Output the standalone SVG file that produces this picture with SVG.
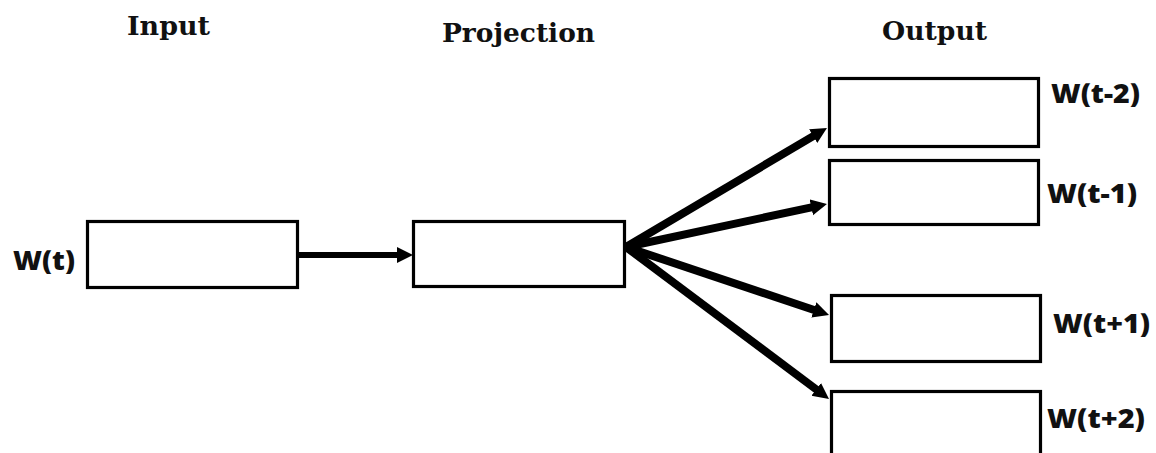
<svg xmlns="http://www.w3.org/2000/svg" width="1156" height="453" viewBox="0 0 1156 453">
  <style>
    .box { fill: #ffffff; stroke: #000000; stroke-width: 3.2; }
    .title { font-family: "DejaVu Serif", "Liberation Serif", serif; font-weight: bold; font-size: 26px; fill: #111111; }
    .lbl { font-family: "Open Sans", "Liberation Sans", sans-serif; font-weight: 800; font-size: 26px; fill: #111111; }
    .wire { stroke: #000000; fill: none; stroke-linecap: butt; }
  </style>
  <defs>
    <marker id="head" markerUnits="userSpaceOnUse" markerWidth="18" markerHeight="18" refX="5" refY="8" orient="auto">
      <path d="M0,0 L16,8 L0,16 z" fill="#000000"/>
    </marker>
  </defs>

  <rect width="1156" height="453" fill="#ffffff"/>

  <!-- column headings -->
  <text class="title" x="127" y="35" textLength="83" lengthAdjust="spacingAndGlyphs">Input</text>
  <text class="title" x="442" y="42" textLength="153" lengthAdjust="spacingAndGlyphs">Projection</text>
  <text class="title" x="882" y="40" textLength="105" lengthAdjust="spacingAndGlyphs">Output</text>

  <!-- connectors -->
  <g id="connectors">
    <line class="wire" x1="298" y1="255" x2="402" y2="255" stroke-width="6" marker-end="url(#head)"/>
    <line class="wire" x1="626" y1="247" x2="817.5" y2="133.6" stroke-width="8" marker-end="url(#head)"/>
    <line class="wire" x1="626" y1="247" x2="816.2" y2="206.3" stroke-width="8" marker-end="url(#head)"/>
    <line class="wire" x1="626" y1="247" x2="818.6" y2="311.5" stroke-width="8" marker-end="url(#head)"/>
    <line class="wire" x1="626" y1="247" x2="820.2" y2="392.4" stroke-width="8" marker-end="url(#head)"/>
  </g>

  <g id="input">
    <rect class="box" x="87.5" y="221.5" width="210" height="66"/>
    <text class="lbl" x="13" y="270" textLength="62" lengthAdjust="spacingAndGlyphs">W(t)</text>
  </g>

  <g id="projection">
    <rect class="box" x="413.5" y="221.5" width="211" height="65"/>
  </g>

  <g id="out-t-2">
    <rect class="box" x="829.5" y="78.5" width="209" height="68"/>
    <text class="lbl" x="1051" y="103" textLength="89" lengthAdjust="spacingAndGlyphs">W(t-2)</text>
  </g>

  <g id="out-t-1">
    <rect class="box" x="829.5" y="160.5" width="209" height="64"/>
    <text class="lbl" x="1047" y="203" textLength="90" lengthAdjust="spacingAndGlyphs">W(t-1)</text>
  </g>

  <g id="out-t+1">
    <rect class="box" x="831.5" y="295.5" width="209" height="66"/>
    <text class="lbl" x="1053" y="333" textLength="97" lengthAdjust="spacingAndGlyphs">W(t+1)</text>
  </g>

  <g id="out-t+2">
    <rect class="box" x="831.5" y="391.5" width="209" height="80"/>
    <text class="lbl" x="1047" y="428" textLength="98" lengthAdjust="spacingAndGlyphs">W(t+2)</text>
  </g>
</svg>
